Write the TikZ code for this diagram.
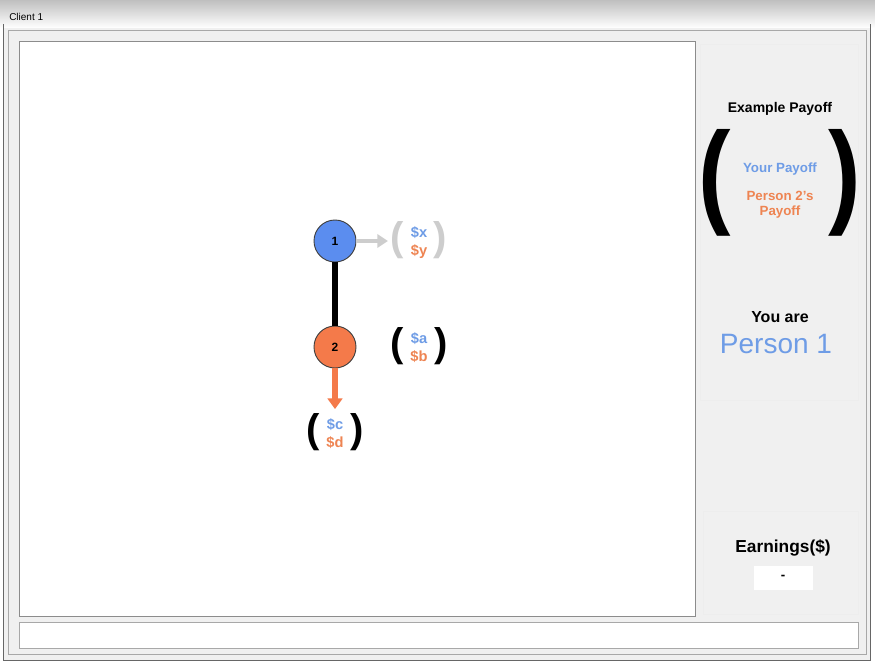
\documentclass[tikz,border=0pt]{standalone}
\usepackage{fontspec}
\setmainfont{Liberation Sans}
\usetikzlibrary{arrows.meta}
\definecolor{winbg}{HTML}{F0F0F0}
\definecolor{framegray}{HTML}{A8A8A8}
\definecolor{pblue}{HTML}{5B8DEF}
\definecolor{porange}{HTML}{F47A4A}
\definecolor{tblue}{HTML}{6E9CE6}
\definecolor{torange}{HTML}{EE8452}
\definecolor{ghost}{HTML}{CDCDCD}
\newcommand{\parenfont}{\bfseries\fontsize{30}{30}\selectfont}
\newcommand{\pairpay}[3]{%
  $\vcenter{\hbox{\color{#1}\parenfont(}}$\hspace{5pt}%
  \raisebox{-2pt}{$\vcenter{\hbox{\begin{tabular}{@{}c@{}}\textcolor{tblue}{#2}\\\textcolor{torange}{#3}\end{tabular}}}$}%
  \hspace{5pt}$\vcenter{\hbox{\color{#1}\parenfont)}}$}

\begin{document}
\begin{tikzpicture}[x=0.75pt, y=-0.75pt,
  player/.style={circle, draw=black!75, line width=0.7pt, minimum size=31.5pt, inner sep=0pt, font=\bfseries\fontsize{9}{9}\selectfont},
  payoff/.style={inner sep=0pt, align=center, font=\bfseries\fontsize{11}{13.5}\selectfont},
  panel/.style={draw=black!7, fill=winbg},
  label/.style={inner sep=1pt, align=center},
  bigparen/.style={inner sep=0pt, xscale=0.85, font=\bfseries\fontsize{86}{86}\selectfont}]
\useasboundingbox (0,0) rectangle (875,666);

% Window
\fill[white] (0,0) rectangle (875,666);
\shade[top color=black!25, bottom color=white] (0,0) rectangle (875,28);
\fill[winbg] (3,28) rectangle (870,660);
\draw[black!60] (3,24) -- (3,660) -- (870,660) -- (870,24);
\draw[framegray] (8,30) rectangle (866,654);
\node[anchor=west, inner sep=0pt, font=\fontsize{7.5}{8}\selectfont] (title) at (9,17) {Client 1};

% Game area
\draw[black!45, fill=white] (19,41) rectangle (695,616);

% Players
\node[player, fill=pblue] (p1) at (335,241) {1};
\node[player, fill=porange] (p2) at (335,347) {2};

% Outcomes
\node[payoff] (o1) at (419,241) {\pairpay{ghost}{\$x}{\$y}};
\node[payoff] (o2) at (419,347) {\pairpay{black}{\$a}{\$b}};
\node[payoff] (o3) at (335,433) {\pairpay{black}{\$c}{\$d}};

% Moves
\draw[line width=4pt] (p1) -- (p2);
\draw[ghost, line width=3pt, -{Triangle[length=8pt, width=10pt]}, shorten >=2pt] (p1) -- (o1);
\draw[porange, line width=3.8pt, -{Triangle[length=8pt, width=11pt]}, shorten >=3pt] (p2) -- (o3);

% Side panel
\draw[panel] (700,44) rectangle (858,400);
\node[label, font=\bfseries\fontsize{10.5}{12}\selectfont] (expl) at (780,109) {Example Payoff};
\node[bigparen] (lbig) at (715,183) {(};
\node[bigparen] (rbig) at (845,183) {)};
\node[label, text=tblue, font=\bfseries\fontsize{10}{12}\selectfont] (yourpay) at (780,169) {Your Payoff};
\node[label, text=torange, font=\bfseries\fontsize{10}{11.5}\selectfont] (otherpay) at (780,205) {Person 2's\\Payoff};
\node[label, font=\bfseries\fontsize{12}{14}\selectfont] (youare) at (780,317) {You are};
\node[label, text=tblue, font=\fontsize{21}{24}\selectfont] (whoami) at (776,344) {Person 1};

% Earnings
\draw[panel] (703,511) rectangle (858,614);
\node[label, font=\bfseries\fontsize{13}{15}\selectfont] (earn) at (783,548) {Earnings(\$)};
\node[draw=black!6, fill=white, minimum width=45pt, minimum height=19pt, font=\bfseries] (earnbox) at (783,577.5) {-};

% Message line
\draw[framegray, fill=white] (19,622) rectangle (858,648);
\end{tikzpicture}
\end{document}
